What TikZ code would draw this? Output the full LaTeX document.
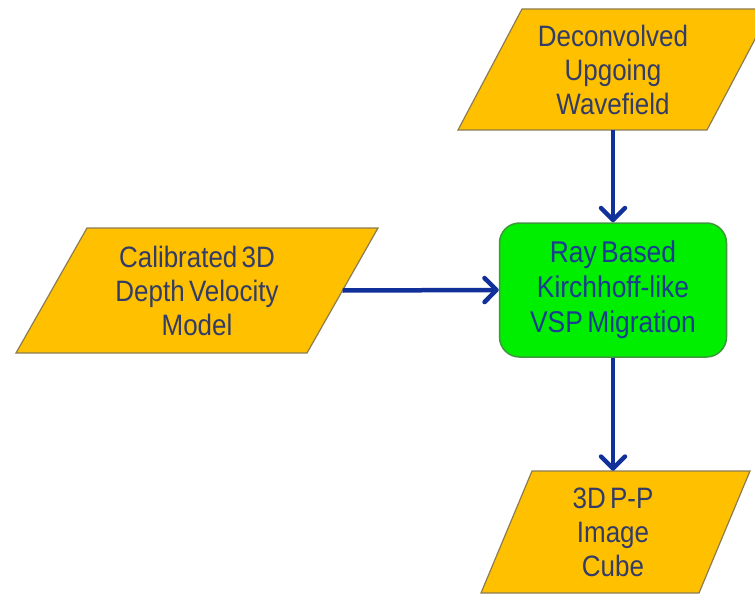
\documentclass[tikz,border=0pt]{standalone}
\usepackage{fontspec}
\setmainfont{Liberation Sans}[FakeStretch=0.88, WordSpace=0.6]
\usetikzlibrary{arrows.meta}

\definecolor{datafill}{HTML}{FFC000}
\definecolor{dataline}{HTML}{8C7C52}
\definecolor{datatext}{HTML}{323C66}
\definecolor{procfill}{HTML}{00EE00}
\definecolor{procline}{HTML}{3C9A3C}
\definecolor{proctext}{HTML}{1B3D8F}
\definecolor{flowblue}{HTML}{12309A}

\tikzset{
  datashape/.style={fill=datafill, draw=dataline, line width=1.2pt, line join=miter},
  labeltext/.style={inner sep=0pt, align=center, text=datatext,
    font=\fontsize{29.5}{34}\selectfont},
  procbox/.style={draw=procline, fill=procfill, line width=1.5pt, rounded corners=20pt,
    minimum width=227pt, minimum height=134pt, inner sep=0pt, align=center,
    text=proctext, font=\fontsize{30}{35}\selectfont},
  flowarrow/.style={draw=flowblue, line width=4.5pt,
    -{Straight Barb[length=12pt,width=24pt,line width=4.5pt,round]}}
}

\begin{document}
\begin{tikzpicture}[x=1pt,y=-1pt]
\useasboundingbox (0,0) rectangle (755,594);
\begin{scope}
\clip (0,0) rectangle (755,594);
% input and output data (parallelograms)
\draw[datashape] (522,9) -- (771,9) -- (707,130) -- (458,130) -- cycle;
\draw[datashape] (87,228) -- (378,228) -- (307,353) -- (16,353) -- cycle;
\draw[datashape] (532,471) -- (750,471) -- (699,593) -- (481,593) -- cycle;
\end{scope}

% labels of the data shapes
\node[labeltext, minimum width=249pt, minimum height=121pt] (decon) at (613,69.5)
  {Deconvolved\\Upgoing\\Wavefield};
\node[labeltext, minimum width=291pt, minimum height=125pt] (calib) at (197,290.5)
  {Calibrated 3D\\Depth Velocity\\Model};
\node[labeltext, minimum width=218pt, minimum height=122pt] (cube) at (613,532)
  {3D P-P\\Image\\Cube};

% processing step
\node[procbox] (ray) at (613,290)
  {Ray Based\\Kirchhoff-like\\VSP Migration};

% flow
\draw[flowarrow] (decon.south) -- (ray.north);
\draw[flowarrow] (calib.east) -- (ray.west);
\draw[flowarrow] (ray.south) -- (ray.south |- cube.north);
\end{tikzpicture}
\end{document}
